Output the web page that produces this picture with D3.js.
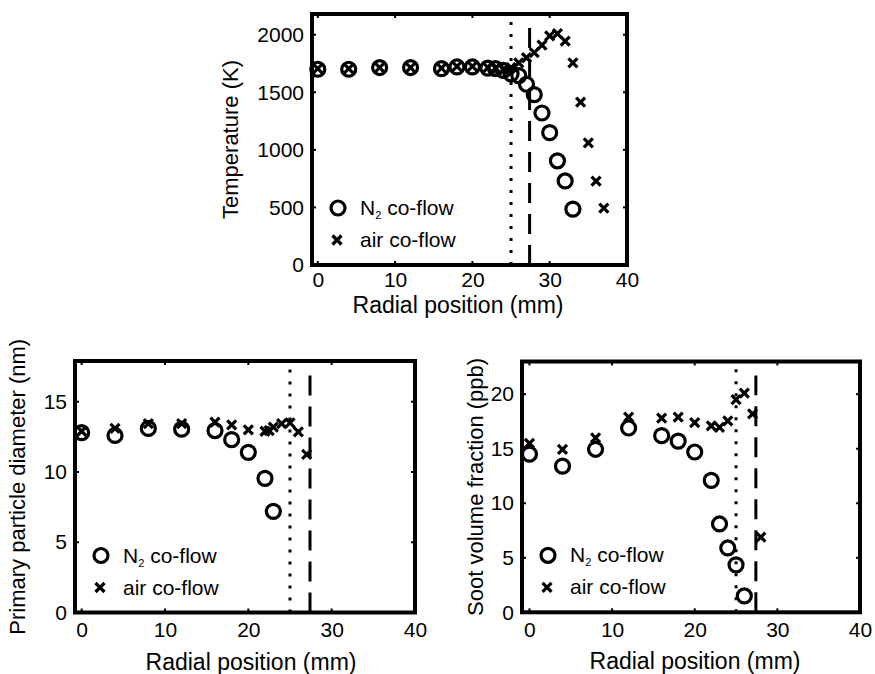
<!DOCTYPE html>
<html>
<head>
<meta charset="utf-8">
<script src="https://cdn.jsdelivr.net/npm/d3@7"></script>
<style>
  body { margin: 0; background: #fff; }
  text { font-family: "Liberation Sans", Arial, sans-serif; fill: #000; }
</style>
</head>
<body>
<div id="chart"></div>
<script>
// temperature panel
var tempN2X  = [0, 4, 8, 12, 16, 18, 20, 22, 23, 24, 25, 26, 27, 28, 29, 30, 31, 32, 33];
var tempN2   = [1700, 1700, 1715, 1715, 1705, 1720, 1720, 1710, 1705, 1690, 1660, 1645, 1570, 1480, 1320, 1150, 905, 730, 485];
var tempAirX = [0, 4, 8, 12, 16, 18, 20, 22, 23, 24, 25, 26, 27, 28, 29, 30, 31, 32, 33, 34, 35, 36, 37];
var tempAir  = [1705, 1705, 1715, 1715, 1710, 1725, 1725, 1715, 1710, 1700, 1715, 1755, 1800, 1845, 1910, 1990, 2010, 1945, 1755, 1415, 1060, 728, 495];
// primary particle diameter panel
var dpN2X  = [0, 4, 8, 12, 16, 18, 20, 22, 23];
var dpN2   = [12.8, 12.6, 13.1, 13.05, 12.95, 12.3, 11.4, 9.55, 7.2];
var dpAirX = [0, 4, 8, 12, 16, 18, 20, 22, 22.5, 23, 24, 25, 26, 27];
var dpAir  = [12.9, 13.1, 13.45, 13.45, 13.55, 13.35, 13.0, 12.9, 12.95, 13.2, 13.45, 13.5, 12.85, 11.25];
// soot volume fraction panel
var fvN2X  = [0, 4, 8, 12, 16, 18, 20, 22, 23, 24, 25, 26];
var fvN2   = [14.5, 13.4, 14.95, 16.9, 16.2, 15.7, 14.7, 12.1, 8.1, 5.9, 4.35, 1.5];
var fvAirX = [0, 4, 8, 12, 16, 18, 20, 22, 23, 24, 25, 26, 27, 28];
var fvAir  = [15.5, 14.95, 16.0, 17.9, 17.8, 17.9, 17.4, 17.1, 16.95, 17.55, 19.5, 20.1, 18.2, 6.9];

var xTicks    = [0, 10, 20, 30, 40];
var tempTicks = [0, 500, 1000, 1500, 2000];
var dpTicks   = [0, 5, 10, 15];
var fvTicks   = [0, 5, 10, 15, 20];
var refLines  = [25, 27.4];   // dotted, dashed
var legendNames = ["co-flow", "air co-flow"];

var svg = d3.select("#chart").append("svg")
  .attr("width", 875).attr("height", 674);
svg.append("rect").attr("width", 875).attr("height", 674).attr("fill", "#fff");

function drawPanel(p) {
  var x = d3.scaleLinear().domain(p.xDomain).range([p.left, p.right]);
  var y = d3.scaleLinear().domain(p.yDomain).range([p.bottom, p.top]);
  var g = svg.append("g");

  // reference lines
  g.append("line")
    .attr("x1", x(refLines[0])).attr("x2", x(refLines[0]))
    .attr("y1", p.bottom).attr("y2", p.top + 6)
    .attr("stroke", "#000").attr("stroke-width", 3)
    .attr("stroke-dasharray", "3,9");
  g.append("line")
    .attr("x1", x(refLines[1])).attr("x2", x(refLines[1]))
    .attr("y1", p.bottom).attr("y2", p.top + 14)
    .attr("stroke", "#000").attr("stroke-width", 3)
    .attr("stroke-dasharray", "20,11");

  // N2 circles
  g.selectAll(".n2").data(p.n2X).enter().append("circle")
    .attr("cx", function(d) { return x(d); })
    .attr("cy", function(d, i) { return y(p.n2[i]); })
    .attr("r", 7)
    .attr("fill", "none").attr("stroke", "#000").attr("stroke-width", 3.2);

  // air crosses
  var s = 4.5;
  g.selectAll(".air").data(p.airX).enter().append("path")
    .attr("d", function(d, i) {
      var cx = x(d), cy = y(p.air[i]);
      return "M" + (cx - s) + "," + (cy - s) + "L" + (cx + s) + "," + (cy + s) +
             "M" + (cx - s) + "," + (cy + s) + "L" + (cx + s) + "," + (cy - s);
    })
    .attr("stroke", "#000").attr("stroke-width", 3.2).attr("fill", "none");

  // axes box with inward ticks on all sides
  var tl = 4;
  var axB = d3.axisBottom(x).tickValues(xTicks).tickSize(0).tickPadding(p.xPad).tickFormat(d3.format("d"));
  var axL = d3.axisLeft(y).tickValues(p.yTicks).tickSize(0).tickPadding(8).tickFormat(d3.format("d"));
  g.append("g").attr("transform", "translate(0," + p.bottom + ")").call(axB);
  g.append("g").attr("transform", "translate(" + p.left + ",0)").call(axL);
  g.selectAll(".domain").remove();
  g.selectAll(".tick text").style("font-size", "21px")
    .style("font-family", "'Liberation Sans', Arial, sans-serif").attr("fill", "#000");

  xTicks.forEach(function(t) {
    g.append("line").attr("x1", x(t)).attr("x2", x(t)).attr("y1", p.bottom).attr("y2", p.bottom - tl)
      .attr("stroke", "#000").attr("stroke-width", 2);
    g.append("line").attr("x1", x(t)).attr("x2", x(t)).attr("y1", p.top).attr("y2", p.top + tl)
      .attr("stroke", "#000").attr("stroke-width", 2);
  });
  p.yTicks.forEach(function(t) {
    g.append("line").attr("x1", p.left).attr("x2", p.left + tl).attr("y1", y(t)).attr("y2", y(t))
      .attr("stroke", "#000").attr("stroke-width", 2);
    g.append("line").attr("x1", p.right).attr("x2", p.right - tl).attr("y1", y(t)).attr("y2", y(t))
      .attr("stroke", "#000").attr("stroke-width", 2);
  });
  g.append("rect")
    .attr("x", p.left).attr("y", p.top)
    .attr("width", p.right - p.left).attr("height", p.bottom - p.top)
    .attr("fill", "none").attr("stroke", "#000").attr("stroke-width", 4);

  // axis titles
  g.append("text")
    .attr("x", p.xTitleX).attr("y", p.bottom + p.xTitleDy)
    .attr("text-anchor", "middle").style("font-size", "23px")
    .text("Radial position (mm)");
  g.append("text")
    .attr("transform", "translate(" + p.yTitleX + "," + ((p.top + p.bottom) / 2) + ") rotate(-90)")
    .attr("text-anchor", "middle").style("font-size", "22px")
    .text(p.yTitle);

  // legend
  var lx = p.left + 26, ly1 = p.bottom - 57, ly2 = p.bottom - 25;
  g.append("circle").attr("cx", lx).attr("cy", ly1).attr("r", 7)
    .attr("fill", "none").attr("stroke", "#000").attr("stroke-width", 3.2);
  g.append("path")
    .attr("d", "M" + (lx - 1 - s) + "," + (ly2 - s) + "L" + (lx - 1 + s) + "," + (ly2 + s) +
               "M" + (lx - 1 - s) + "," + (ly2 + s) + "L" + (lx - 1 + s) + "," + (ly2 - s))
    .attr("stroke", "#000").attr("stroke-width", 3.2);
  var t1 = g.append("text").attr("x", p.left + 48).attr("y", ly1 + 7).style("font-size", "21px");
  t1.append("tspan").text("N");
  t1.append("tspan").attr("dy", 4).style("font-size", "11px").text("2");
  t1.append("tspan").attr("dy", -4).text(" " + legendNames[0]);
  g.append("text").attr("x", p.left + 48).attr("y", ly2 + 7).style("font-size", "21px")
    .text(legendNames[1]);
}

drawPanel({
  left: 312, right: 627, top: 14, bottom: 265,
  xDomain: [-0.75, 40], yDomain: [0, 2180],
  yTicks: tempTicks, yTitle: "Temperature (K)", yTitleX: 238,
  xPad: 7, xTitleX: 458, xTitleDy: 48,
  n2X: tempN2X, n2: tempN2, airX: tempAirX, air: tempAir
});
drawPanel({
  left: 75, right: 415, top: 361, bottom: 612.5,
  xDomain: [-0.8, 40], yDomain: [0, 17.9],
  yTicks: dpTicks, yTitle: "Primary particle diameter (nm)", yTitleX: 25,
  xPad: 10, xTitleX: 251, xTitleDy: 57,
  n2X: dpN2X, n2: dpN2, airX: dpAirX, air: dpAir
});
drawPanel({
  left: 522, right: 860, top: 361.5, bottom: 612.3,
  xDomain: [-0.9, 40], yDomain: [0, 23],
  yTicks: fvTicks, yTitle: "Soot volume fraction (ppb)", yTitleX: 483,
  xPad: 10, xTitleX: 695, xTitleDy: 57,
  n2X: fvN2X, n2: fvN2, airX: fvAirX, air: fvAir
});
</script>
</body>
</html>
